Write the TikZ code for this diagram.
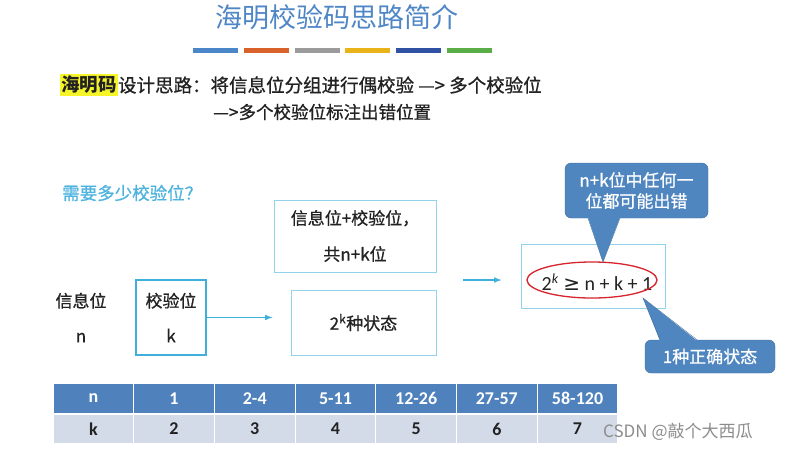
\documentclass[tikz,border=0pt]{standalone}
\usepackage{fontspec}
\setmainfont{Noto Sans CJK SC}
\newfontfamily\midfont[FakeBold=0.8]{Noto Sans CJK SC}
\newfontfamily\numfont{Carlito}
\newfontfamily\symfont{DejaVu Sans}
\usetikzlibrary{arrows}

\definecolor{titleblue}{HTML}{4F86C6}
\definecolor{askblue}{HTML}{4DB3DF}
\definecolor{lineblue}{HTML}{3FB0DC}
\definecolor{frameblue}{HTML}{93D2EC}
\definecolor{tipblue}{HTML}{4F86C0}
\definecolor{tipedge}{HTML}{41719C}
\definecolor{headblue}{HTML}{4F81BD}
\definecolor{bodyblue}{HTML}{D3DBE9}
\definecolor{marker}{HTML}{F6F52A}
\definecolor{inkred}{HTML}{D8232A}
\definecolor{textdark}{HTML}{222222}
\definecolor{wmgray}{HTML}{8C8C8C}
\definecolor{barA}{HTML}{4A86C8}
\definecolor{barB}{HTML}{D9622B}
\definecolor{barC}{HTML}{9B9B9B}
\definecolor{barD}{HTML}{EAB31A}
\definecolor{barE}{HTML}{2F52A5}
\definecolor{barF}{HTML}{5AAE47}

\begin{document}
\begin{tikzpicture}[x=1pt,y=-1pt,>=latex]
\tikzstyle{every node}=[inner sep=0pt,text=textdark,font=\midfont\fontsize{17}{17}\selectfont];
\tikzstyle{frame}=[draw=frameblue,line width=1pt,align=center];
\tikzstyle{tip}=[fill=tipblue,draw=tipedge,rounded corners=6pt,text=white,align=center];
\tikzstyle{flow}=[->,draw=lineblue,line width=1.5pt];
\tikzstyle{head}=[fill=headblue,text=white,minimum width=79.7pt,minimum height=29pt,font=\numfont\bfseries\fontsize{18}{18}\selectfont];
\tikzstyle{body}=[fill=bodyblue,minimum width=79.7pt,minimum height=28pt,font=\numfont\bfseries\fontsize{18}{18}\selectfont];

\useasboundingbox (0,0) rectangle (790,451);
\fill[white] (0,0) rectangle (790,451);

% title and colour bars
\node[text=titleblue,font=\fontsize{27}{27}\selectfont] (title) at (336.5,17) {海明校验码思路简介};
\foreach \c [count=\i from 0] in {barA,barB,barC,barD,barE,barF}
  \fill[\c] (193+50.8*\i,48) rectangle +(45,5);

% design idea
\node[anchor=west,fill=marker,minimum height=22pt,inner xsep=1pt,font=\bfseries\fontsize{18.5}{18.5}\selectfont] (hm) at (60,85) {海明码};
\node[anchor=west,font=\midfont\fontsize{18.5}{18.5}\selectfont] (idea) at (hm.east) {设计思路：将信息位分组进行偶校验 —> 多个校验位};
\node[anchor=west,font=\midfont\fontsize{17.5}{17.5}\selectfont] (idea2) at (213,112) {—>多个校验位标注出错位置};

\node[anchor=west,text=askblue,font=\midfont\fontsize{17.5}{17.5}\selectfont] (ask) at (62,193) {需要多少校验位？};

% bits and states
\node[frame,minimum width=162pt,minimum height=72pt] (sum) at (355,236) {信息位+校验位，\\[19pt]共n+k位};
\node[frame,minimum width=145pt,minimum height=65pt] (states) at (363.5,322.5) {2\textsuperscript{\textit{k}}种状态};
\node[align=center] (info) at (81,317.5) {信息位\\[18pt]n};
\node[draw=lineblue,line width=1.5pt,minimum width=70pt,minimum height=75pt,align=center] (chk) at (171,317.5) {校验位\\[18pt]k};
\draw[flow,shorten >=18pt] (chk.east) -- (chk.east -| states.west);

% condition
\node[frame,minimum width=144pt,minimum height=64pt] (cond) at (593,276) {};
\node[font=\numfont\fontsize{20}{20}\selectfont] (eq) at (597,282) {2\textsuperscript{\textit{k}} {\symfont ≥} n + k + 1};
\coordinate (ring) at (592,280);
\draw[inkred,line width=1.3pt] (ring) ellipse [x radius=65pt,y radius=18pt];
\coordinate (joint) at (463,280);
\draw[flow,shorten >=19pt] (joint) -- (joint -| cond.west);

% callouts
\node[tip,minimum width=143pt,minimum height=55pt] (anyerr) at (636.5,190.5) {n+k位中任何一\\[4pt]位都可能出错};
\coordinate (anytip) at (603,262);
\fill[tipblue] ([xshift=-48.5pt,yshift=1pt]anyerr.south) -- (anytip) -- ([xshift=-16.5pt,yshift=1pt]anyerr.south) -- cycle;
\draw[tipedge] ([xshift=-48.5pt]anyerr.south) -- (anytip) -- ([xshift=-16.5pt]anyerr.south);
\node[tip,minimum width=130pt,minimum height=33pt] (okstate) at (710,356.5) {1种正确状态};
\coordinate (oktip) at (643,298);
\fill[tipblue] ([xshift=-50pt,yshift=-1pt]okstate.north) -- (oktip) -- ([xshift=-13pt,yshift=-1pt]okstate.north) -- cycle;
\draw[tipedge] ([xshift=-50pt]okstate.north) -- (oktip) -- ([xshift=-13pt]okstate.north);

% table
\foreach \nv/\kv [count=\i from 0] in {n/k,1/2,2-4/3,5-11/4,12-26/5,27-57/6,58-120/7} {
  \node[head] (n\i) at (93.35+80.7*\i,398.5) {\nv};
  \node[body] (k\i) at (93.35+80.7*\i,429) {\kv};
}

\node[anchor=west,text=wmgray,font=\fontsize{17}{17}\selectfont] (mark) at (603,432) {CSDN @敲个大西瓜};
\end{tikzpicture}
\end{document}
